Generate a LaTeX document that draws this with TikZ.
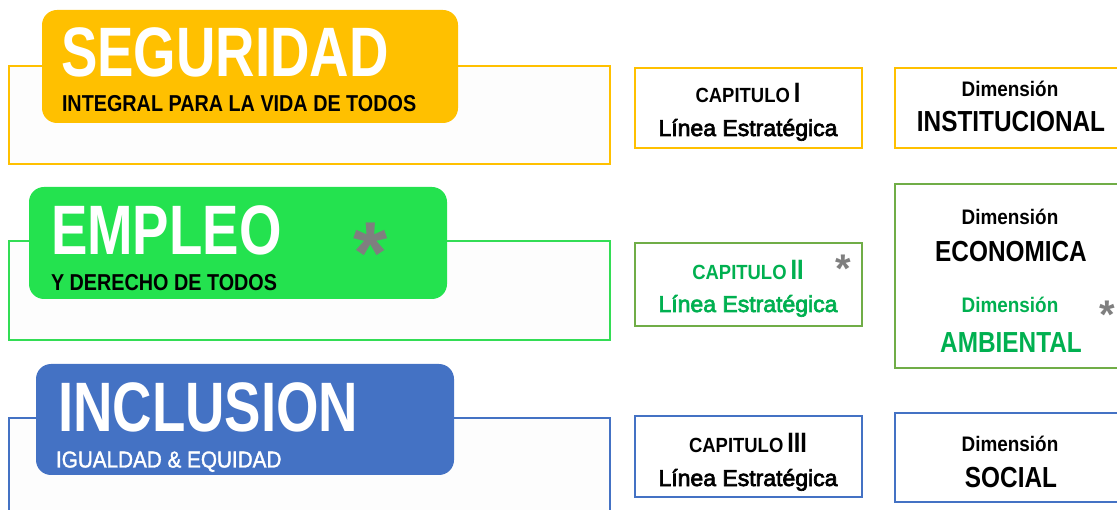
\documentclass[tikz,border=0pt]{standalone}
\usepackage{fontspec}
\setmainfont{Liberation Sans}
\newfontfamily\fbig[FakeStretch=0.78]{Liberation Sans}
\newfontfamily\fsub[FakeStretch=0.86]{Liberation Sans}
\newfontfamily\fsubr[FakeStretch=0.9,FakeBold=1.5]{Liberation Sans}
\newfontfamily\fright[FakeStretch=0.84]{Liberation Sans}
\newfontfamily\fdim[FakeStretch=0.9]{Liberation Sans}
\newfontfamily\fline[FakeBold=3]{Liberation Sans}
\newcommand\setfs[1]{\fontsize{#1}{#1}\selectfont}
\definecolor{cyel}{HTML}{FFC000}
\definecolor{cgrn}{HTML}{24E24F}
\definecolor{cgrnl}{HTML}{33DD55}
\definecolor{colv}{HTML}{70AD47}
\definecolor{ctgr}{HTML}{00B050}
\definecolor{cblu}{HTML}{4472C4}
\definecolor{cgry}{HTML}{7F7F7F}
\definecolor{paper}{HTML}{FDFDFD}
\tikzset{
  lbl/.style={inner sep=0pt, outer sep=0pt},
  outerbox/.style={line width=1.3pt, fill=paper},
  headbox/.style={rounded corners=15pt},
  chapbox/.style={line width=1.3pt, fill=white},
  star/.style={lbl, anchor=north, text=cgry, font=\bfseries},
}
\begin{document}
\begin{tikzpicture}[x=1pt,y=-1pt]
\useasboundingbox (0,0) rectangle (1117,510);
\clip (0,0) rectangle (1117,510);
% row 1
\draw[outerbox, draw=cyel] (9,66) rectangle (610,164);
\fill[headbox, cyel] (42,10) rectangle (458,123);
\node[lbl, anchor=base west, text=white] (seg) at (61,77) {\fbig\bfseries\setfs{70}SEGURIDAD};
\node[lbl, anchor=base west] (segs) at (62,111.5) {\fsub\bfseries\setfs{23}INTEGRAL PARA LA VIDA DE TODOS};
% row 2
\draw[outerbox, draw=cgrnl] (9,241) rectangle (610,340);
\fill[headbox, cgrn] (29,187) rectangle (447,299);
\node[lbl, anchor=base west, text=white] (emp) at (51,255) {\fbig\bfseries\setfs{70}EMPLEO};
\node[star] (st1) at (371,223) {\setfs{88}*};
\node[lbl, anchor=base west] (emps) at (51,290.5) {\fsub\bfseries\setfs{23}Y DERECHO DE TODOS};
% row 3
\draw[outerbox, draw=cblu] (9,418) rectangle (610,530);
\fill[headbox, cblu] (36,364) rectangle (454,475);
\node[lbl, anchor=base west, text=white] (inc) at (58,432) {\fbig\bfseries\setfs{70}INCLUSION};
\node[lbl, anchor=base west, text=white] (incs) at (56,467.5) {\fsubr\setfs{23}IGUALDAD \& EQUIDAD};
% chapters
\draw[chapbox, draw=cyel] (635,68) rectangle (862,148);
\node[lbl, anchor=base] (c1a) at (748,103) {\fdim\bfseries\setfs{20.5}CAPITULO\hspace{4pt}{\fright\setfs{28}I}};
\node[lbl, anchor=base] (c1b) at (748,136) {\fline\setfs{23}Línea Estratégica};
\draw[chapbox, draw=colv] (635,243) rectangle (862,326);
\node[lbl, anchor=base, text=ctgr] (c2a) at (748,280) {\fdim\bfseries\setfs{20.5}CAPITULO\hspace{4pt}{\fright\setfs{28}II}};
\node[lbl, anchor=base, text=ctgr] (c2b) at (748,312) {\fline\setfs{23}Línea Estratégica};
\node[star] (st2) at (843,255) {\setfs{40}*};
\draw[chapbox, draw=cblu] (635,416) rectangle (862,497);
\node[lbl, anchor=base] (c3a) at (748,453) {\fdim\bfseries\setfs{20.5}CAPITULO\hspace{4pt}{\fright\setfs{28}III}};
\node[lbl, anchor=base] (c3b) at (748,486) {\fline\setfs{23}Línea Estratégica};
% dimensions
\draw[chapbox, draw=cyel] (895,68) rectangle (1130,148);
\node[lbl, anchor=base] (d1a) at (1010,97) {\fdim\bfseries\setfs{21}Dimensión};
\node[lbl, anchor=base] (d1b) at (1011,132) {\fright\bfseries\setfs{29}INSTITUCIONAL};
\draw[chapbox, draw=colv] (895,184) rectangle (1130,368);
\node[lbl, anchor=base] (d2a) at (1010,225) {\fdim\bfseries\setfs{21}Dimensión};
\node[lbl, anchor=base] (d2b) at (1011,262) {\fright\bfseries\setfs{29}ECONOMICA};
\node[lbl, anchor=base, text=ctgr] (d3a) at (1010,313) {\fdim\bfseries\setfs{21}Dimensión};
\node[star] (st3) at (1107,301) {\setfs{40}*};
\node[lbl, anchor=base, text=ctgr] (d3b) at (1011,353) {\fright\bfseries\setfs{29}AMBIENTAL};
\draw[chapbox, draw=cblu] (895,413) rectangle (1130,502);
\node[lbl, anchor=base] (d4a) at (1010,452) {\fdim\bfseries\setfs{21}Dimensión};
\node[lbl, anchor=base] (d4b) at (1011,488) {\fright\bfseries\setfs{29}SOCIAL};
\end{tikzpicture}
\end{document}
